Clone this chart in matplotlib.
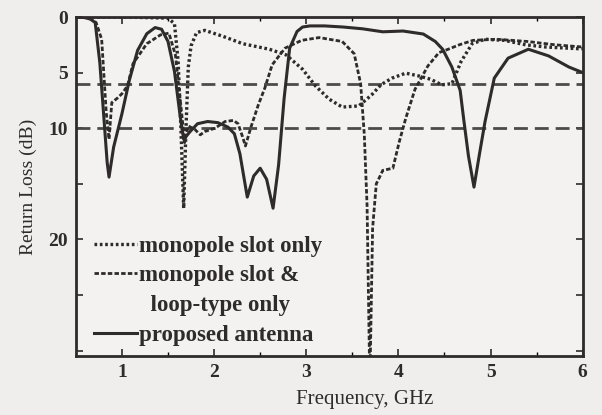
import matplotlib
matplotlib.use('Agg')
import matplotlib.pyplot as plt

plt.rcParams['font.family'] = ['Liberation Serif', 'DejaVu Serif']
plt.rcParams['font.weight'] = 'bold'

# monopole slot only (dotted)
f_slot = [0.5, 1.0, 1.5, 1.57, 1.61, 1.64, 1.67, 1.695, 1.72, 1.75, 1.81, 1.9, 2.1, 2.31,
          2.6, 2.78, 2.96, 3.1, 3.25, 3.39, 3.57, 3.71, 3.81, 3.93, 4.08, 4.22, 4.35, 4.47,
          4.58, 4.68, 4.80, 4.94, 5.15, 5.38, 5.6, 5.95, 6.0]
rl_slot = [0, 0, 0.1, 0.6, 4.0, 10.0, 17.2, 10.0, 4.5, 2.6, 1.4, 1.2, 1.75, 2.4,
           2.9, 3.4, 4.7, 6.2, 7.4, 8.1, 8.0, 7.0, 6.1, 5.5, 5.05, 5.3, 5.6, 6.1,
           6.0, 4.0, 2.4, 2.0, 2.1, 2.5, 2.7, 2.85, 2.85]

# monopole slot & loop-type only (dashed)
f_loop = [0.5, 0.65, 0.72, 0.78, 0.83, 0.86, 0.89, 0.95, 1.0, 1.06, 1.12, 1.27, 1.42, 1.51,
          1.58, 1.65, 1.68, 1.72, 1.79, 1.85, 1.90, 2.01, 2.12, 2.21, 2.26, 2.31, 2.34, 2.40,
          2.48, 2.55, 2.63, 2.77, 2.95, 3.14, 3.39, 3.52, 3.59, 3.63, 3.66, 3.69, 3.72, 3.76,
          3.79, 3.83, 3.94, 4.01, 4.08, 4.18, 4.32, 4.44, 4.54, 4.66, 4.81, 5.06, 5.4, 5.7, 6.0]
rl_loop = [0, 0.1, 0.5, 2.0, 8.6, 11.0, 7.7, 7.3, 6.9, 6.2, 4.2, 2.4, 1.6, 1.45,
           3.4, 8.8, 11.3, 9.8, 10.1, 10.6, 10.3, 10.0, 9.4, 9.3, 9.6, 10.8, 11.6, 9.9,
           7.9, 6.4, 4.3, 2.8, 2.1, 1.85, 2.2, 3.3, 6.0, 10.6, 17.0, 33.0, 19.0, 15.0,
           14.5, 13.8, 13.6, 11.2, 9.1, 6.5, 4.4, 3.2, 2.9, 2.5, 2.1, 2.0, 2.2, 2.5, 2.7]

# proposed antenna (solid)
f_prop = [0.5, 0.6, 0.66, 0.71, 0.76, 0.80, 0.84, 0.86, 0.91, 1.0, 1.08, 1.17, 1.27, 1.36,
          1.43, 1.50, 1.57, 1.63, 1.67, 1.74, 1.82, 1.93, 2.04, 2.15, 2.22, 2.28, 2.36, 2.43,
          2.50, 2.57, 2.64, 2.70, 2.76, 2.82, 2.90, 2.96, 3.04, 3.2, 3.4, 3.61, 3.83, 4.05,
          4.27, 4.40, 4.48, 4.58, 4.67, 4.71, 4.76, 4.82, 4.88, 4.94, 5.04, 5.19, 5.41, 5.63,
          5.85, 6.0]
rl_prop = [0, 0.05, 0.2, 0.5, 4.1, 8.6, 13.1, 14.4, 11.7, 8.7, 5.7, 3.0, 1.5, 0.95,
           1.1, 2.2, 4.9, 8.8, 11.0, 10.3, 9.6, 9.4, 9.5, 9.9, 10.5, 12.3, 16.2, 14.3,
           13.6, 14.6, 17.2, 13.3, 7.3, 2.8, 1.3, 0.9, 0.8, 0.8, 0.9, 1.06, 1.33, 1.26,
           1.53, 2.2, 2.9, 4.5, 6.6, 9.3, 12.5, 15.3, 12.3, 9.4, 5.5, 3.7, 2.9, 3.5,
           4.5, 5.0]

ref_levels = [6, 10]
yticks = [0, 5, 10, 15, 20, 25, 30]
ytick_labels = ['0', '5', '10', '', '20', '', '']
xticks = [1, 2, 3, 4, 5, 6]

ink = '#2f2a2b'
fig = plt.figure(figsize=(6.02, 4.15), dpi=100, facecolor='#efeeec')
ax = fig.add_axes([0.126, 0.142, 0.842, 0.817])
ax.set_facecolor('#f3f2f0')

for lvl in ref_levels:
    ax.axhline(lvl, color='#4d4a4a', lw=2, dashes=(5, 2.5))

ax.plot(f_slot, rl_slot, color=ink, lw=2.4, dashes=(0.8, 0.8), label='monopole slot only')
ax.plot(f_loop, rl_loop, color=ink, lw=2.0, dashes=(1.6, 0.8), label='monopole slot &')
# second line of the dashed entry, no handle
ax.plot([], [], color='none', label='  loop-type only')
ax.plot(f_prop, rl_prop, color=ink, lw=2.2, label='proposed antenna')

ax.set_xlim(0.5, 6)
ax.set_ylim(30.5, 0)
ax.set_xticks(xticks)
ax.set_xticks([1.5, 2.5, 3.5, 4.5, 5.5], minor=True)
ax.set_yticks(yticks)
ax.set_yticklabels(ytick_labels)
ax.tick_params(direction='in', top=True, right=True, length=5, width=1.2,
               colors=ink, labelsize=14, pad=6)
ax.tick_params(which='minor', direction='in', top=True, length=3, width=1)
for s in ax.spines.values():
    s.set_linewidth(2)
    s.set_color(ink)

ax.set_xlabel('Frequency, GHz', fontsize=15, color=ink, labelpad=2)
ax.xaxis.set_label_coords(0.57, -0.1)
ax.set_ylabel('Return Loss (dB)', fontsize=14, color=ink, labelpad=8)

leg = ax.legend(loc='lower left', bbox_to_anchor=(0.035, 0.03), frameon=False,
                fontsize=16.5, handlelength=1.9, handletextpad=0.1, labelspacing=0.38,
                borderaxespad=0, borderpad=0)
for t in leg.get_texts():
    t.set_color(ink)

plt.savefig('out.png', dpi=100, facecolor=fig.get_facecolor())
